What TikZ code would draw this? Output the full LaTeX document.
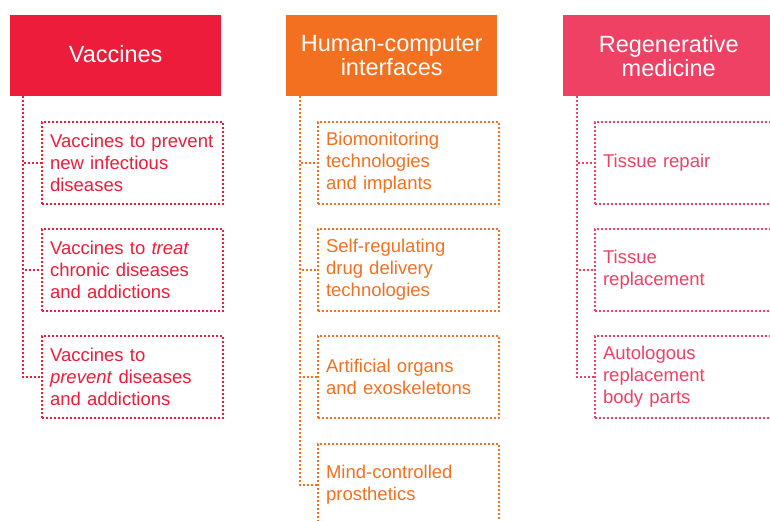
\documentclass[tikz,border=0pt]{standalone}
\usepackage{fontspec}
\setmainfont{Liberation Sans}
\definecolor{cred}{HTML}{ED1C3A}
\definecolor{corange}{HTML}{F37021}
\definecolor{cpink}{HTML}{EF4164}
\tikzset{
  hdr/.style={fill=#1, draw=none, text=white, minimum width=211pt, minimum height=81pt,
    anchor=north west, align=center, inner sep=0pt,
    font=\fontsize{23.5}{24}\selectfont},
  itembox/.style={draw=#1, text=#1, line width=2.1pt, dash pattern=on 2pt off 2pt,
    minimum width=181pt, minimum height=82pt, text width=165pt, inner xsep=8pt,
    anchor=north west, align=left, font=\fontsize{18.5}{22}\selectfont},
  link/.style={draw=#1, line width=2.1pt, dash pattern=on 2pt off 2pt}
}
\begin{document}
\begin{tikzpicture}[x=1pt,y=-1pt]
\path[use as bounding box, clip] (0,0) rectangle (770,521);
\fill[white] (0,0) rectangle (770,521);
% Vaccines
\node[hdr=cred, text depth=4pt] (vh) at (10,15) {Vaccines};
\node[itembox=cred] (v1) at (41,121) {Vaccines to prevent\\new infectious\\diseases};
\node[itembox=cred] (v2) at (41,228) {Vaccines to \textit{treat}\\chronic diseases\\and addictions};
\node[itembox=cred] (v3) at (41,335) {Vaccines to\\\textit{prevent} diseases\\and addictions};
\coordinate (vt) at (23,96);
\draw[link=cred] (vt) |- (v1.west);
\draw[link=cred] (vt) |- (v2.west);
\draw[link=cred] (vt) |- (v3.west);
% Human-computer interfaces
\node[hdr=corange] (hh) at (286,15) {Human-computer\\interfaces};
\node[itembox=corange] (h1) at (317,121) {Biomonitoring\\technologies\\and implants};
\node[itembox=corange] (h2) at (317,228) {Self-regulating\\drug delivery\\technologies};
\node[itembox=corange] (h3) at (317,335) {Artificial organs\\and exoskeletons};
\node[itembox=corange] (h4) at (317,443) {Mind-controlled\\prosthetics};
\coordinate (ht) at (300,96);
\draw[link=corange] (ht) |- (h1.west);
\draw[link=corange] (ht) |- (h2.west);
\draw[link=corange] (ht) |- (h3.west);
\draw[link=corange] (ht) |- (h4.west);
% Regenerative medicine
\node[hdr=cpink] (rh) at (563,15) {Regenerative\\medicine};
\node[itembox=cpink] (r1) at (594,121) {Tissue repair};
\node[itembox=cpink] (r2) at (594,228) {Tissue\\replacement};
\node[itembox=cpink] (r3) at (594,335) {Autologous\\replacement\\body parts};
\coordinate (rt) at (577,96);
\draw[link=cpink] (rt) |- (r1.west);
\draw[link=cpink] (rt) |- (r2.west);
\draw[link=cpink] (rt) |- (r3.west);
\end{tikzpicture}
\end{document}
